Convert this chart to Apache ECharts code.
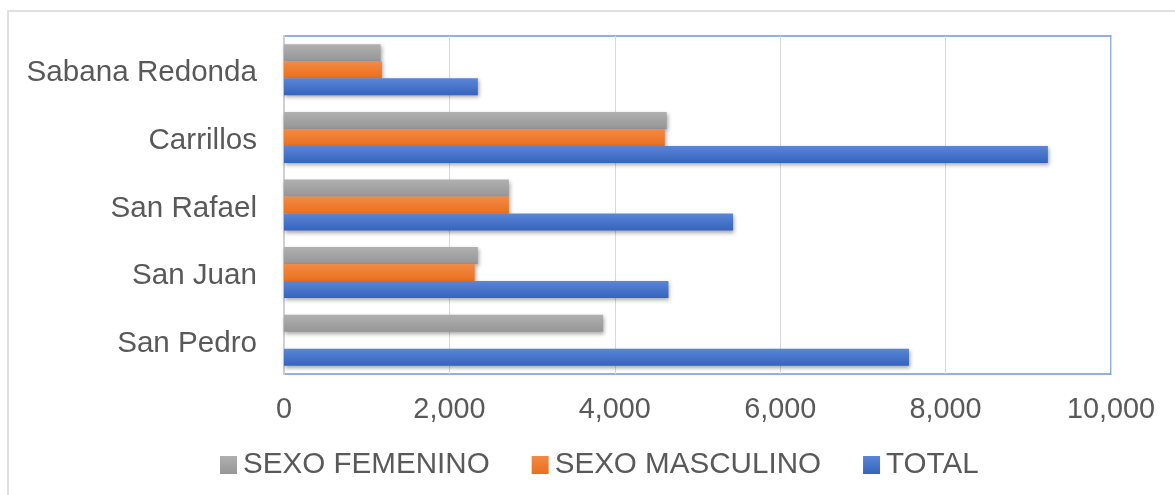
<!DOCTYPE html>
<html>
<head>
<meta charset="utf-8">
<script src="https://cdn.jsdelivr.net/npm/echarts@6/dist/echarts.min.js"></script>
<style>
  html, body { margin: 0; padding: 0; background: #ffffff; }
  #chart { width: 1175px; height: 495px; }
</style>
</head>
<body>
<div id="chart"></div>
<script>
const categories = ['Sabana Redonda', 'Carrillos', 'San Rafael', 'San Juan', 'San Pedro'];
const femenino = [1168, 4628, 2719, 2344, 3859];
const masculino = [1184, 4604, 2719, 2304, null];
const total = [2344, 9237, 5430, 4649, 7557];
const seriesNames = ['SEXO FEMENINO', 'SEXO MASCULINO', 'TOTAL'];
const xTicks = { min: 0, max: 10000, interval: 2000 };

const FONT = "'Liberation Sans', Arial, sans-serif";
const TXT = '#595959';

function grad(top, bottom) {
  return new echarts.graphic.LinearGradient(0, 0, 0, 1, [
    { offset: 0, color: top }, { offset: 1, color: bottom }
  ]);
}
const shadow = { shadowColor: 'rgba(0,0,0,0.35)', shadowBlur: 4, shadowOffsetX: 1, shadowOffsetY: 2 };

function barSeries(name, data, top, bottom, solid) {
  return {
    name: name,
    type: 'bar',
    data: data,
    barWidth: 17,
    barGap: '0%',
    color: solid,
    itemStyle: Object.assign({ color: grad(top, bottom) }, shadow),
    emphasis: { disabled: true }
  };
}

const chart = echarts.init(document.getElementById('chart'), null, { renderer: 'canvas' });
chart.setOption({
  animation: false,
  backgroundColor: '#ffffff',
  textStyle: { fontFamily: FONT },
  graphic: [{
    type: 'rect',
    shape: { x: 8, y: 11, width: 1300, height: 600 },
    style: { fill: 'none', stroke: '#e0e0e0', lineWidth: 2 },
    silent: true,
    z: -10
  }],
  grid: {
    left: 284, top: 36, right: 64, bottom: 121,
    show: true,
    borderColor: '#7394dc',
    borderWidth: 1.5,
    backgroundColor: 'transparent'
  },
  legend: {
    left: 215,
    top: 445,
    itemWidth: 17,
    itemHeight: 18,
    itemGap: 42,
    icon: 'rect',
    textStyle: { fontSize: 29.6, color: TXT, fontFamily: FONT, padding: [0, 0, 0, 1] },
    data: seriesNames.map((n, i) => ({
      name: n,
      itemStyle: { color: [grad('#b0b0b0', '#969696'), grad('#f38a45', '#e8701f'), grad('#5b86d6', '#3563be')][i], shadowBlur: 0, shadowOffsetX: 0, shadowOffsetY: 0 }
    }))
  },
  xAxis: {
    type: 'value',
    min: xTicks.min,
    max: xTicks.max,
    interval: xTicks.interval,
    axisLine: { show: false },
    axisTick: { show: false },
    splitLine: { show: true, lineStyle: { color: '#d9d9d9', width: 1 } },
    axisLabel: {
      fontSize: 28.8,
      color: TXT,
      fontFamily: FONT,
      margin: 22,
      formatter: v => v.toLocaleString('en-US')
    }
  },
  yAxis: {
    type: 'category',
    inverse: true,
    data: categories,
    axisLine: { show: true, lineStyle: { color: '#d0d0d0', width: 2 } },
    axisTick: { show: false },
    splitLine: { show: false },
    axisLabel: {
      margin: 27,
      formatter: v => '{c|' + v + '}',
      rich: {
        c: { fontSize: 29.6, color: TXT, fontFamily: FONT, lineHeight: 34, padding: [7, 0, 0, 0] }
      }
    }
  },
  series: [
    barSeries(seriesNames[0], femenino, '#b0b0b0', '#969696', '#a5a5a5'),
    barSeries(seriesNames[1], masculino, '#f38a45', '#e8701f', '#ed7d31'),
    barSeries(seriesNames[2], total, '#5b86d6', '#3563be', '#4472c4')
  ]
});
</script>
</body>
</html>
